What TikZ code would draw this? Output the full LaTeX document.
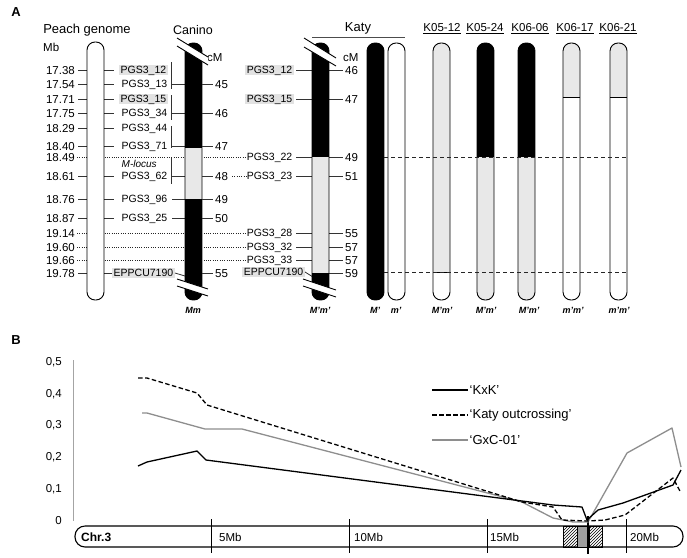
\documentclass[tikz,border=0pt]{standalone}
\usepackage{fontspec}
\setmainfont{Liberation Sans}
\usetikzlibrary{patterns}
\definecolor{lg}{HTML}{E8E8E8}
\definecolor{hl}{HTML}{E2E2E2}
\definecolor{gline}{HTML}{8E8E8E}
\newcommand\mychrom[5]{%
  \begin{scope}
    \clip[rounded corners=8pt] (#1,#3) rectangle (#2,#4);
    #5
  \end{scope}
  \draw[chr] (#1,#3) rectangle (#2,#4);
}
\newcommand\mybreak[8]{%
  \fill[white] (#1,#2) -- (#3,#4) -- (#7,#8) -- (#5,#6) -- cycle;
  \draw[line width=0.9pt] (#1,#2) -- (#3,#4);
  \draw[line width=0.9pt] (#5,#6) -- (#7,#8);
}
\begin{document}
\begin{tikzpicture}[x=1pt,y=-1pt,
  lbl/.style={font=\fontsize{10.5}{12}\selectfont, inner sep=1.5pt, text height=7.6pt, text depth=0pt},
  hlb/.style={lbl, fill=hl},
  num/.style={font=\fontsize{11.5}{12}\selectfont, inner sep=1pt, text height=8.2pt, text depth=0pt},
  hdr/.style={font=\fontsize{13}{15}\selectfont, inner sep=1pt},
  khdr/.style={font=\fontsize{11.5}{13}\selectfont, inner sep=1pt},
  geno/.style={font=\fontsize{9}{10}\selectfont\bfseries\itshape, inner sep=1pt},
  tk/.style={line width=0.8pt, black!80},
  dotl/.style={line width=0.8pt, black!85, dash pattern=on 1pt off 1.3pt},
  dashl/.style={line width=0.8pt, black!85, dash pattern=on 4pt off 3pt},
  chr/.style={line width=0.9pt, rounded corners=8pt},
  curve/.style={line width=1.3pt, line join=round},
  bnum/.style={font=\fontsize{11.5}{12}\selectfont, inner sep=1pt, anchor=east},
  legt/.style={font=\fontsize{13}{14}\selectfont, anchor=west, inner sep=1.5pt},
  ]
\useasboundingbox (0,0) rectangle (687,557);

% ---------------- Panel A ----------------
\node[font=\fontsize{13}{14}\selectfont\bfseries] (pA) at (16,12) {A};
\node[hdr] (hpg) at (87,30) {Peach genome};
\node[num, anchor=west] (hmb) at (42,47) {Mb};
\node[hdr, font=\fontsize{12.5}{15}\selectfont] (hcan) at (193,30) {Canino};
\node[num, anchor=west] (hcm1) at (206,57) {cM};
\node[hdr] (hkaty) at (358,28) {Katy};
\draw[line width=0.9pt, black!70] (312,37) -- (405,37);
\node[num, anchor=west] (hcm2) at (342,57) {cM};

% dotted lines (behind chromosomes)
\foreach \y in {157,233,247,260} \draw[dotl] (77,\y) -- (247,\y);
\draw[dotl] (232,176) -- (247,176);

% Mb values
\foreach \y/\v [count=\i] in {70/17.38,84/17.54,99/17.71,113/17.75,128/18.29,146/18.40,157/18.49,176/18.61,199/18.76,218/18.87,233/19.14,247/19.60,260/19.66,273/19.78}
  \node[num, anchor=east] (mb\i) at (76,\y) {\v};
\foreach \y in {70,84,99,113,128,146,176,199,218,273} {
  \draw[tk] (78,\y) -- (87,\y);
  \draw[tk] (104,\y) -- (114,\y);
}

% Peach genome chromosome
\mychrom{87}{104}{42}{300}{\fill[white] (87,42) rectangle (104,300);}

% Peach genome marker labels
\node[hlb, anchor=west] (p12) at (119,70) {PGS3\_12};
\node[lbl, anchor=west] (p13) at (120,84) {PGS3\_13};
\node[hlb, anchor=west] (p15) at (119,99) {PGS3\_15};
\node[lbl, anchor=west] (p34) at (120,113) {PGS3\_34};
\node[lbl, anchor=west] (p44) at (120,128) {PGS3\_44};
\node[lbl, anchor=west] (p71) at (120,146) {PGS3\_71};
\node[lbl, anchor=west, font=\fontsize{10}{12}\selectfont\itshape] (mloc) at (120,164) {M-locus};
\node[lbl, anchor=west] (p62) at (120,176) {PGS3\_62};
\node[lbl, anchor=west] (p96) at (120,199) {PGS3\_96};
\node[lbl, anchor=west] (p25) at (120,218) {PGS3\_25};
\node[hlb, anchor=west] (pep) at (112,273) {EPPCU7190};

% grouping bars
\draw[tk] (171,62) -- (171,89);
\draw[tk] (171,95) -- (171,120);
\draw[tk] (171,126) -- (171,148);
\draw[tk] (171,158) -- (171,184);
\foreach \y in {84,113,146,176} \draw[tk] (171,\y) -- (185,\y);
\draw[tk] (172,199) -- (185,199);
\draw[tk] (172,218) -- (185,218);
\draw[tk] (pep.east) -- (185,276);

% Canino chromosome
\mychrom{185}{202}{43}{300}{%
  \fill[black] (185,43) rectangle (202,148);
  \fill[lg] (185,148) rectangle (202,199);
  \fill[black] (185,199) rectangle (202,300);}
\mybreak{177}{38}{208}{57}{177}{46}{208}{65}
\mybreak{177}{279}{208}{289}{177}{286}{208}{296}
\foreach \y/\v [count=\i] in {84/45,113/46,146/47,176/48,199/49,218/50,273/55} {
  \draw[tk] (202,\y) -- (213,\y);
  \node[num, anchor=west] (cn\i) at (214,\y) {\v};
}
\node[geno] (gmm) at (193,310) {Mm};

% Katy chromosome
\foreach \y/\v [count=\i] in {70/46,99/47,157/49,176/51,233/55,247/57,260/57,273/59} {
  \draw[tk] (329,\y) -- (343,\y);
  \node[num, anchor=west] (kn\i) at (344,\y) {\v};
}
\node[hlb, anchor=east] (k12) at (294,70) {PGS3\_12};
\node[hlb, anchor=east] (k15) at (294,99) {PGS3\_15};
\node[lbl, anchor=east] (k22) at (294,157) {PGS3\_22};
\node[lbl, anchor=east] (k23) at (294,176) {PGS3\_23};
\node[lbl, anchor=east] (k28) at (294,233) {PGS3\_28};
\node[lbl, anchor=east] (k32) at (294,247) {PGS3\_32};
\node[lbl, anchor=east] (k33) at (294,260) {PGS3\_33};
\node[hlb, anchor=east] (kep) at (305,272) {EPPCU7190};
\foreach \y in {70,99,157,176,233,247,260} \draw[tk] (296,\y) -- (312,\y);
\draw[tk] (kep.east) -- (313,277);
\mychrom{312}{329}{43}{300}{%
  \fill[black] (312,43) rectangle (329,157);
  \fill[lg] (312,157) rectangle (329,273);
  \fill[black] (312,273) rectangle (329,300);}
\mybreak{304}{38}{336}{58}{304}{47}{336}{66}
\mybreak{303}{279}{336}{290}{303}{286}{336}{297}
\node[geno] (gk) at (320,310) {M'm'};

% M' and m'
\mychrom{367}{384}{43}{300}{\fill[black] (367,43) rectangle (384,300);}
\mychrom{388}{405}{43}{300}{\fill[white] (388,43) rectangle (405,300);}
\node[geno] (gM) at (375,310) {M'};
\node[geno] (gm) at (396,310) {m'};

% progeny
\mychrom{433}{450}{43}{300}{%
  \fill[lg] (433,43) rectangle (450,272);
  \fill[white] (433,272) rectangle (450,300);
  \draw[line width=0.8pt] (433,272) -- (450,272);}
\mychrom{477}{494}{43}{300}{%
  \fill[black] (477,43) rectangle (494,157);
  \fill[lg] (477,157) rectangle (494,300);}
\mychrom{518}{535}{43}{300}{%
  \fill[black] (518,43) rectangle (535,157);
  \fill[lg] (518,157) rectangle (535,300);}
\mychrom{563}{580}{43}{300}{%
  \fill[lg] (563,43) rectangle (580,97);
  \fill[white] (563,97) rectangle (580,300);
  \draw[line width=0.8pt] (563,97) -- (580,97);}
\mychrom{610}{627}{43}{300}{%
  \fill[lg] (610,43) rectangle (627,97);
  \fill[white] (610,97) rectangle (627,300);
  \draw[line width=0.8pt] (610,97) -- (627,97);}
\node[khdr] (h1) at (442,29) {\underline{K05-12}};
\node[khdr] (h2) at (485,29) {\underline{K05-24}};
\node[khdr] (h3) at (530,29) {\underline{K06-06}};
\node[khdr] (h4) at (575,29) {\underline{K06-17}};
\node[khdr] (h5) at (618,29) {\underline{K06-21}};
\node[geno] (g1) at (442,310) {M'm'};
\node[geno] (g2) at (486,310) {M'm'};
\node[geno] (g3) at (529,310) {M'm'};
\node[geno] (g4) at (573,310) {m'm'};
\node[geno] (g5) at (619,310) {m'm'};

% dashed lines
\draw[dashl] (384,157) -- (628,157);
\draw[dashl] (384,272) -- (628,272);

% ---------------- Panel B ----------------
\node[font=\fontsize{13}{14}\selectfont\bfseries] (pB) at (16,340) {B};
\draw[line width=1pt, gline!80] (73,360) -- (73,521);
\foreach \v [count=\i from 0] in {0,{0,1},{0,2},{0,3},{0,4},{0,5}}
  \node[bnum] (yt\i) at (63,521-31.8*\i) {\v};

% chromosome bar
\draw[line width=1.1pt, rounded corners=10pt] (75,526) rectangle (683,547);
\fill[pattern=north east lines] (563,526) rectangle (577,547);
\draw[line width=0.7pt] (563,526) rectangle (577,547);
\fill[gray!75] (577,526) rectangle (588,547);
\draw[line width=0.7pt] (577,526) rectangle (588,547);
\fill[pattern=north east lines] (589,526) rectangle (602,547);
\draw[line width=0.7pt] (589,526) rectangle (602,547);
\draw[line width=1.8pt] (588,516) -- (588,554);
\foreach \x/\t/\d [count=\i] in {211/5Mb/7,349/10Mb/4,487/15Mb/2,626/20Mb/3} {
  \draw[line width=0.9pt] (\x,519) -- (\x,553);
  \node[font=\fontsize{11.5}{13}\selectfont, anchor=west, inner sep=1pt] (mbl\i) at (\x+\d,537) {\t};
}
\node[font=\fontsize{12}{13}\selectfont\bfseries, anchor=west, inner sep=1pt] (chr3) at (80,537) {Chr.3};

% curves
\draw[curve, gline] plot coordinates {(142,413) (147,413) (205,429) (242,429) (522,502) (553,518) (573,522) (588,522) (627,453) (672,428) (681,467)};
\draw[curve, dash pattern=on 4.5pt off 2.5pt] plot coordinates {(138,378) (147,378) (197,393) (207,405) (522,502) (553,507) (562,520) (588,521) (605,520) (625,515) (673,478) (681,493)};
\draw[curve] plot coordinates {(138,466) (147,462) (197,451) (206,460) (522,501) (553,505) (582,507) (587,520) (598,510) (623,503) (673,485) (681,470)};

% legend
\coordinate (l1a) at (432,390); \coordinate (l1b) at (468,390);
\coordinate (l2a) at (432,415); \coordinate (l2b) at (468,415);
\coordinate (l3a) at (432,440); \coordinate (l3b) at (468,440);
\draw[curve] (l1a) -- (l1b);
\draw[curve, dash pattern=on 4.5pt off 2.5pt] (l2a) -- (l2b);
\draw[curve, gline] (l3a) -- (l3b);
\node[legt] (lt1) at (l1b) {`KxK'};
\node[legt] (lt2) at (l2b) {`Katy outcrossing'};
\node[legt] (lt3) at (l3b) {`GxC-01'};
\end{tikzpicture}
\end{document}
